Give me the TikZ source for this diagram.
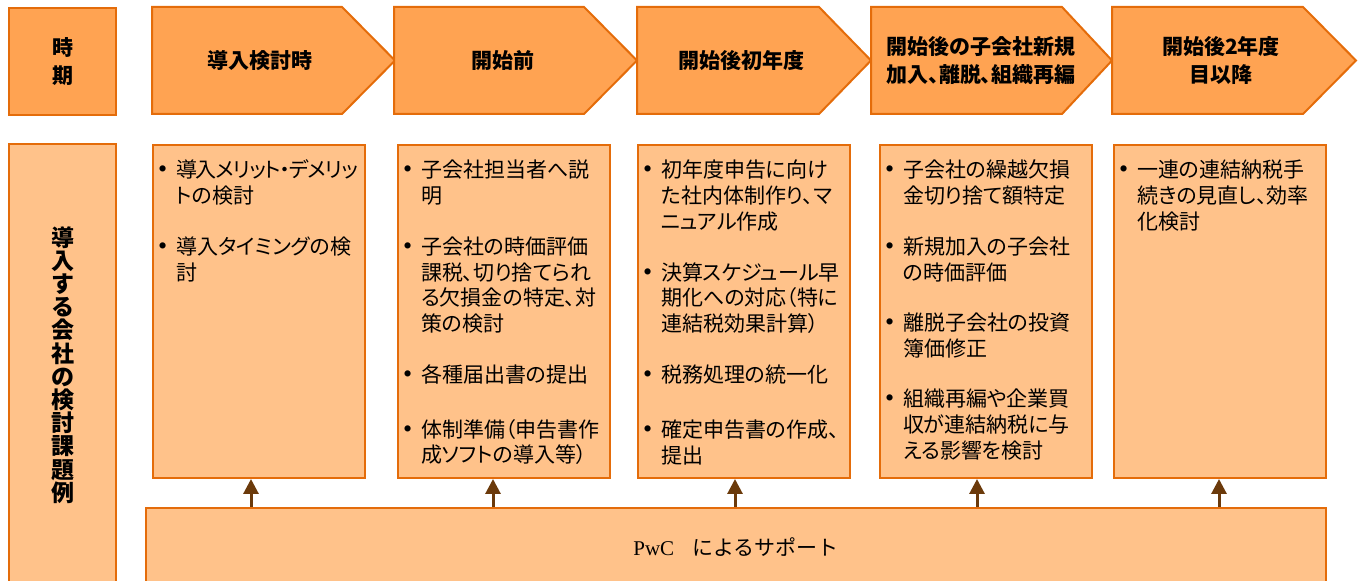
\documentclass[tikz,border=0pt]{standalone}
\usepackage{fontspec}
\setmainfont{Liberation Serif}
\newfontfamily\jp[RawFeature=+palt]{Noto Sans CJK JP}
\newfontfamily\jpwide{Noto Sans CJK JP}
\usetikzlibrary{arrows.meta, positioning}
\definecolor{hdrfill}{HTML}{FFA352}
\definecolor{boxfill}{HTML}{FFC28A}
\definecolor{edgeorange}{HTML}{E46C0A}
\definecolor{arrowbrown}{HTML}{6B3A0B}
\tikzset{
  phase/.style={draw=edgeorange, fill=hdrfill, line width=1pt},
  phasetext/.style={font=\jp\bfseries\fontsize{10.5pt}{14pt}\selectfont, align=center},
  period/.style={draw=edgeorange, fill=hdrfill, line width=1pt, anchor=north west,
    minimum width=53.5pt, minimum height=53.5pt, inner sep=0pt, align=center,
    font=\jp\bfseries\fontsize{10.5pt}{14pt}\selectfont},
  topiclabel/.style={draw=edgeorange, fill=boxfill, line width=1pt, anchor=north west,
    minimum width=53.5pt, minimum height=221pt, inner sep=0pt, align=center,
    font=\jp\bfseries\fontsize{11.5pt}{11.6pt}\selectfont},
  topicbox/.style={draw=edgeorange, fill=boxfill, line width=1pt, anchor=north west,
    inner xsep=2.5pt, inner ysep=0pt, text width=101pt, text height=16.5pt,
    text depth=150pt, align=left, font=\jp\fontsize{10.5pt}{12.85pt}\selectfont},
  support/.style={draw=edgeorange, fill=boxfill, line width=1pt, anchor=north west,
    minimum width=590pt, minimum height=39pt, inner sep=0pt,
    font=\fontsize{10.5pt}{12.85pt}\selectfont},
  supparrow/.style={draw=arrowbrown, line width=1.5pt,
    -{Triangle[width=7.5pt,length=7.5pt]}}
}
% one bullet point, lines broken by hand
\newcommand{\bitem}[1]{\noindent\makebox[9pt][l]{\rmfamily\fontsize{13pt}{12.85pt}\selectfont\textbullet}\parbox[t]{92pt}{#1}\par\vspace{14.6pt}}

\begin{document}
\begin{tikzpicture}[x=0.5pt, y=-0.5pt]
  \useasboundingbox (0,0) rectangle (1364,581);

  % time line
  \node[period] (period) at (8,7) {時\\期};

  \draw[phase] (152,7) -- (342,7) -- (395,60.5) -- (342,114) -- (152,114) -- cycle;
  \node[phasetext] (p1) at (260,60.5) {導入検討時};
  \draw[phase] (394,7) -- (584,7) -- (637,60.5) -- (584,114) -- (394,114) -- cycle;
  \node[phasetext] (p2) at (503,60.5) {開始前};
  \draw[phase] (637,7) -- (819,7) -- (871,60.5) -- (819,114) -- (637,114) -- cycle;
  \node[phasetext] (p3) at (741,60.5) {開始後初年度};
  \draw[phase] (871,7) -- (1062,7) -- (1112,60.5) -- (1062,114) -- (871,114) -- cycle;
  \node[phasetext] (p4) at (981,60.5) {開始後の子会社新規\\加入、離脱、組織再編};
  \draw[phase] (1112,7) -- (1303,7) -- (1356,60.5) -- (1303,114) -- (1112,114) -- cycle;
  \node[phasetext] (p5) at (1221,60.5) {開始後2年度\\目以降};

  % topics
  \node[topiclabel] (topic) at (8,143)
    {導\\入\\す\\る\\会\\社\\の\\検\\討\\課\\題\\例};

  \node[topicbox] (c1) at (152,144) {%
    \bitem{{\addfontfeature{LetterSpace=-5}導入メリット・デメリッ}\\トの検討}
    \bitem{導入タイミングの検\\討}};
  \node[topicbox] (c2) at (397,144) {%
    \bitem{子会社担当者へ説\\明}
    \bitem{子会社の時価評価\\課税、切り捨てられ\\る欠損金の特定、対\\策の検討}
    \bitem{各種届出書の提出}
    \bitem{体制準備（申告書作\\成ソフトの導入等）}};
  \node[topicbox] (c3) at (637,144) {%
    \bitem{初年度申告に向け\\た社内体制作り、マ\\ニュアル作成}
    \bitem{決算スケジュール早\\期化への対応（特に\\連結税効果計算）}
    \bitem{税務処理の統一化}
    \bitem{確定申告書の作成、\\提出}};
  \node[topicbox] (c4) at (879,144) {%
    \bitem{子会社の繰越欠損\\金切り捨て額特定}
    \bitem{新規加入の子会社\\の時価評価}
    \bitem{離脱子会社の投資\\簿価修正}
    \bitem{組織再編や企業買\\収が連結納税に与\\える影響を検討}};
  \node[topicbox] (c5) at (1113,144) {%
    \bitem{一連の連結納税手\\続きの見直し、効率\\化検討}};

  % support
  \node[support] (support) at (145,507) {PwC\hspace{9pt}{\jpwide によるサポート}};

  \coordinate (a1) at (251,0);
  \coordinate (a2) at (493,0);
  \coordinate (a3) at (735,0);
  \coordinate (a4) at (977,0);
  \coordinate (a5) at (1219,0);
  \draw[supparrow] (support.north -| a1) -- (c1.south -| a1);
  \draw[supparrow] (support.north -| a2) -- (c2.south -| a2);
  \draw[supparrow] (support.north -| a3) -- (c3.south -| a3);
  \draw[supparrow] (support.north -| a4) -- (c4.south -| a4);
  \draw[supparrow] (support.north -| a5) -- (c5.south -| a5);
\end{tikzpicture}
\end{document}
